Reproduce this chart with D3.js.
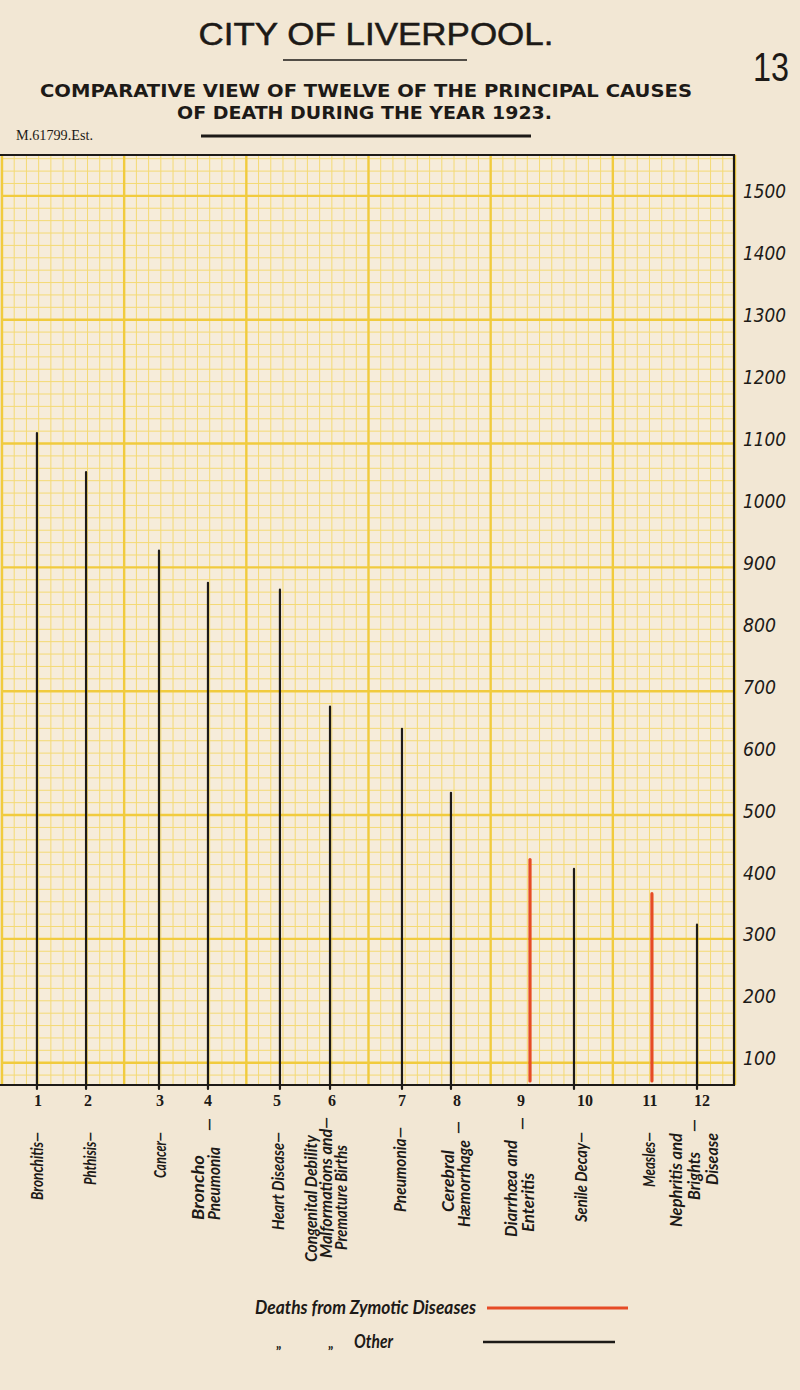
<!DOCTYPE html>
<html>
<head>
<meta charset="utf-8">
<script src="https://cdn.jsdelivr.net/npm/d3@7/dist/d3.min.js"></script>
<style>
  html, body { margin: 0; padding: 0; background: #f2e7d4; }
  svg { display: block; }
</style>
</head>
<body>
<svg id="chart" width="800" height="1390"></svg>
<script>
// ---------------- DATA ----------------
const causeNumbers = ["1","2","3","4","5","6","7","8","9","10","11","12"];
const causes = ["Bronchitis","Phthisis","Cancer","Broncho Pneumonia","Heart Disease",
  "Congenital Debility Malformations and Premature Births","Pneumonia","Cerebral Hæmorrhage",
  "Diarrhœa and Enteritis","Senile Decay","Measles","Nephritis and Brights Disease"];
const deaths = [1117, 1054, 927, 875, 864, 675, 639, 536, 428, 413, 373, 323];
const zymotic = [false,false,false,false,false,false,false,false,true,false,true,false];
// position of each line on the squared paper, in small squares from the left edge
const gridPosition = [2.86, 6.88, 12.85, 16.86, 22.75, 26.85, 32.74, 36.75, 43.22, 46.82, 53.2, 56.89];
const yTickValues = [1500,1400,1300,1200,1100,1000,900,800,700,600,500,400,300,200,100];
const legendLabels = ["Deaths from Zymotic Diseases", "Other"];

// ---------------- LAYOUT ----------------
const W = 800, H = 1390;
const frame = { left: 2, right: 735, top: 155, bottom: 1085 };
const yDomain = [64, 1566];
const gridCols = 60;
const numberShift = [1, 2, 1, 0, -3, 2, 0, 6, -9, 11, -2, 5];
// rotated label lines: [centre x, bottom y, length, text]
const labelLines = [
  [[36, 1200, 68, "Bronchitis—"]],
  [[89, 1185, 53, "Phthisis—"]],
  [[159, 1178, 46, "Cancer—"]],
  [[208, 1131, 13, "—"], [197, 1220, 65, "Broncho"], [213, 1220, 73, "Pneumonia"]],
  [[277, 1230, 98, "Heart Disease—"]],
  [[310, 1262, 127, "Congenital Debility"], [325, 1258, 141, "Malformations and—"], [340, 1250, 105, "Premature Births"]],
  [[399, 1212, 85, "Pneumonia—"]],
  [[457, 1134, 13, "—"], [447, 1212, 62, "Cerebral"], [463, 1227, 87, "Hæmorrhage"]],
  [[521, 1130, 13, "—"], [510, 1237, 97, "Diarrhœa and"], [527, 1232, 59, "Enteritis"]],
  [[580, 1222, 90, "Senile Decay—"]],
  [[648, 1187, 55, "Measles—"]],
  [[693, 1132, 13, "—"], [675, 1227, 94, "Nephritis and"], [693, 1200, 48, "Brights"], [711, 1185, 52, "Disease"]]
];
const RED = "#e64b26", INK = "#1d1a17";
const YEL_MAJOR = "#f1cb3e", YEL_MINOR = "#f4da74";

const svg = d3.select("#chart");
svg.append("rect").attr("width", W).attr("height", H).attr("fill", "#f2e7d4");

// ---------------- HEADER ----------------
svg.append("text").attr("x", 376).attr("y", 45).attr("text-anchor", "middle")
  .attr("font-family", "Liberation Sans, Arial, sans-serif").attr("font-size", 31)
  .attr("textLength", 355).attr("lengthAdjust", "spacingAndGlyphs")
  .attr("stroke", INK).attr("stroke-width", 0.5)
  .attr("fill", INK).text("CITY  OF  LIVERPOOL.");
svg.append("line").attr("x1", 283).attr("x2", 467).attr("y1", 60).attr("y2", 60)
  .attr("stroke", INK).attr("stroke-width", 1.5);
svg.append("text").attr("x", 771).attr("y", 81).attr("text-anchor", "middle")
  .attr("font-family", "Liberation Sans, sans-serif").attr("font-size", 40)
  .attr("textLength", 36).attr("lengthAdjust", "spacingAndGlyphs")
  .attr("fill", INK).text("13");
svg.append("text").attr("x", 40).attr("y", 97)
  .attr("font-family", "DejaVu Sans, sans-serif").attr("font-weight", "bold").attr("font-size", 17)
  .attr("textLength", 652).attr("lengthAdjust", "spacingAndGlyphs")
  .attr("fill", INK).text("COMPARATIVE VIEW OF TWELVE OF THE PRINCIPAL CAUSES");
svg.append("text").attr("x", 177).attr("y", 119)
  .attr("font-family", "DejaVu Sans, sans-serif").attr("font-weight", "bold").attr("font-size", 17)
  .attr("textLength", 375).attr("lengthAdjust", "spacingAndGlyphs")
  .attr("fill", INK).text("OF DEATH DURING THE YEAR 1923.");
svg.append("text").attr("x", 16).attr("y", 140)
  .attr("font-family", "Liberation Serif, serif").attr("font-size", 14)
  .attr("textLength", 77).attr("lengthAdjust", "spacingAndGlyphs")
  .attr("fill", INK).text("M.61799.Est.");
svg.append("line").attr("x1", 201).attr("x2", 531).attr("y1", 136).attr("y2", 136)
  .attr("stroke", INK).attr("stroke-width", 3);

// ---------------- SCALES ----------------
const y = d3.scaleLinear().domain(yDomain).range([frame.bottom, frame.top]);
const x = d3.scaleLinear().domain([0, gridCols]).range([frame.left, frame.right]);

// ---------------- GRID PAPER ----------------
svg.append("rect").attr("x", frame.left).attr("y", frame.top)
  .attr("width", frame.right - frame.left).attr("height", frame.bottom - frame.top)
  .attr("fill", "#f6ecda");
const grid = svg.append("g");
const hVals = d3.range(80, 1561, 20);
const vVals = d3.range(0, gridCols + 1);
const isMajorH = d => (d - 100) % 200 === 0;
const isMajorV = d => d % 10 === 0;
grid.selectAll("line.hmin").data(hVals.filter(d => !isMajorH(d))).join("line")
  .attr("x1", frame.left).attr("x2", frame.right)
  .attr("y1", d => y(d)).attr("y2", d => y(d))
  .attr("stroke", YEL_MINOR).attr("stroke-width", 1);
grid.selectAll("line.vmin").data(vVals.filter(d => !isMajorV(d))).join("line")
  .attr("y1", frame.top).attr("y2", frame.bottom)
  .attr("x1", d => x(d)).attr("x2", d => x(d))
  .attr("stroke", YEL_MINOR).attr("stroke-width", 1);
grid.selectAll("line.hmaj").data(hVals.filter(isMajorH)).join("line")
  .attr("x1", frame.left).attr("x2", frame.right)
  .attr("y1", d => y(d)).attr("y2", d => y(d))
  .attr("stroke", YEL_MAJOR).attr("stroke-width", 2.4);
grid.selectAll("line.vmaj").data(vVals.filter(isMajorV)).join("line")
  .attr("y1", frame.top).attr("y2", frame.bottom)
  .attr("x1", d => x(d)).attr("x2", d => x(d))
  .attr("stroke", YEL_MAJOR).attr("stroke-width", 2.4);

// frame
svg.append("path")
  .attr("d", `M0,${frame.top} L${frame.right - 1},${frame.top} L${frame.right - 1},${frame.bottom} L0,${frame.bottom}`)
  .attr("fill", "none").attr("stroke", INK).attr("stroke-width", 2.2);

// ---------------- BARS (lines) ----------------
svg.append("g").selectAll("line").data(deaths).join("line")
  .attr("x1", (d, i) => x(gridPosition[i])).attr("x2", (d, i) => x(gridPosition[i]))
  .attr("y1", (d, i) => zymotic[i] ? y(yDomain[0]) - 4 : y(yDomain[0]) + 4)
  .attr("y2", d => y(d))
  .attr("stroke", (d, i) => zymotic[i] ? RED : INK)
  .attr("stroke-width", (d, i) => zymotic[i] ? 3.2 : 2.2)
  .attr("stroke-linecap", "round");

// ---------------- RIGHT AXIS ----------------
const axis = d3.axisRight(y).tickValues(yTickValues).tickSize(0).tickPadding(0).tickFormat(d3.format("d"));
const ax = svg.append("g").attr("transform", `translate(743,0)`).call(axis);
ax.select(".domain").remove();
ax.selectAll("text")
  .attr("y", -4)
  .attr("font-family", "DejaVu Sans, sans-serif").attr("font-style", "italic")
  .attr("font-size", 19).attr("fill", INK)
  .attr("textLength", 43).attr("lengthAdjust", "spacingAndGlyphs")
  .each(function(d) { if (d < 1000) d3.select(this).attr("textLength", 33); });

// ---------------- BOTTOM NUMBERS ----------------
svg.append("g").selectAll("text").data(causeNumbers).join("text")
  .attr("x", (d, i) => x(gridPosition[i]) + numberShift[i])
  .attr("y", 1106).attr("text-anchor", "middle")
  .attr("font-family", "Liberation Serif, serif").attr("font-weight", "bold")
  .attr("font-size", 16).attr("fill", INK).text(d => d);

// ---------------- ROTATED CAUSE LABELS ----------------
const lg = svg.append("g");
labelLines.forEach((lines, i) => {
  lines.forEach(([cx, by, len, txt]) => {
    lg.append("text")
      .attr("transform", `translate(${cx},${by}) rotate(-90)`)
      .attr("dominant-baseline", "central")
      .attr("font-family", "Lato, 'Open Sans', sans-serif").attr("font-style", "italic")
      .attr("font-weight", 700).attr("font-size", 17.5).attr("fill", INK)
      .attr("textLength", len).attr("lengthAdjust", "spacingAndGlyphs")
      .text(txt);
  });
});

// ---------------- LEGEND ----------------
const leg = svg.append("g");
leg.append("text").attr("x", 255).attr("y", 1314)
  .attr("font-family", "Lato, sans-serif").attr("font-style", "italic").attr("font-weight", 700)
  .attr("font-size", 18).attr("fill", INK)
  .attr("textLength", 221).attr("lengthAdjust", "spacingAndGlyphs").text(legendLabels[0]);
leg.append("line").attr("x1", 487).attr("x2", 628).attr("y1", 1308).attr("y2", 1308)
  .attr("stroke", RED).attr("stroke-width", 3);
leg.append("text").attr("x", 276).attr("y", 1348)
  .attr("font-family", "Lato, sans-serif").attr("font-weight", 700).attr("font-size", 14)
  .attr("fill", INK).text("„");
leg.append("text").attr("x", 328).attr("y", 1348)
  .attr("font-family", "Lato, sans-serif").attr("font-weight", 700).attr("font-size", 14)
  .attr("fill", INK).text("„");
leg.append("text").attr("x", 354).attr("y", 1348)
  .attr("font-family", "Lato, sans-serif").attr("font-style", "italic").attr("font-weight", 700)
  .attr("font-size", 18).attr("fill", INK)
  .attr("textLength", 39).attr("lengthAdjust", "spacingAndGlyphs").text(legendLabels[1]);
leg.append("line").attr("x1", 483).attr("x2", 615).attr("y1", 1342).attr("y2", 1342)
  .attr("stroke", INK).attr("stroke-width", 2.5);
</script>
</body>
</html>
